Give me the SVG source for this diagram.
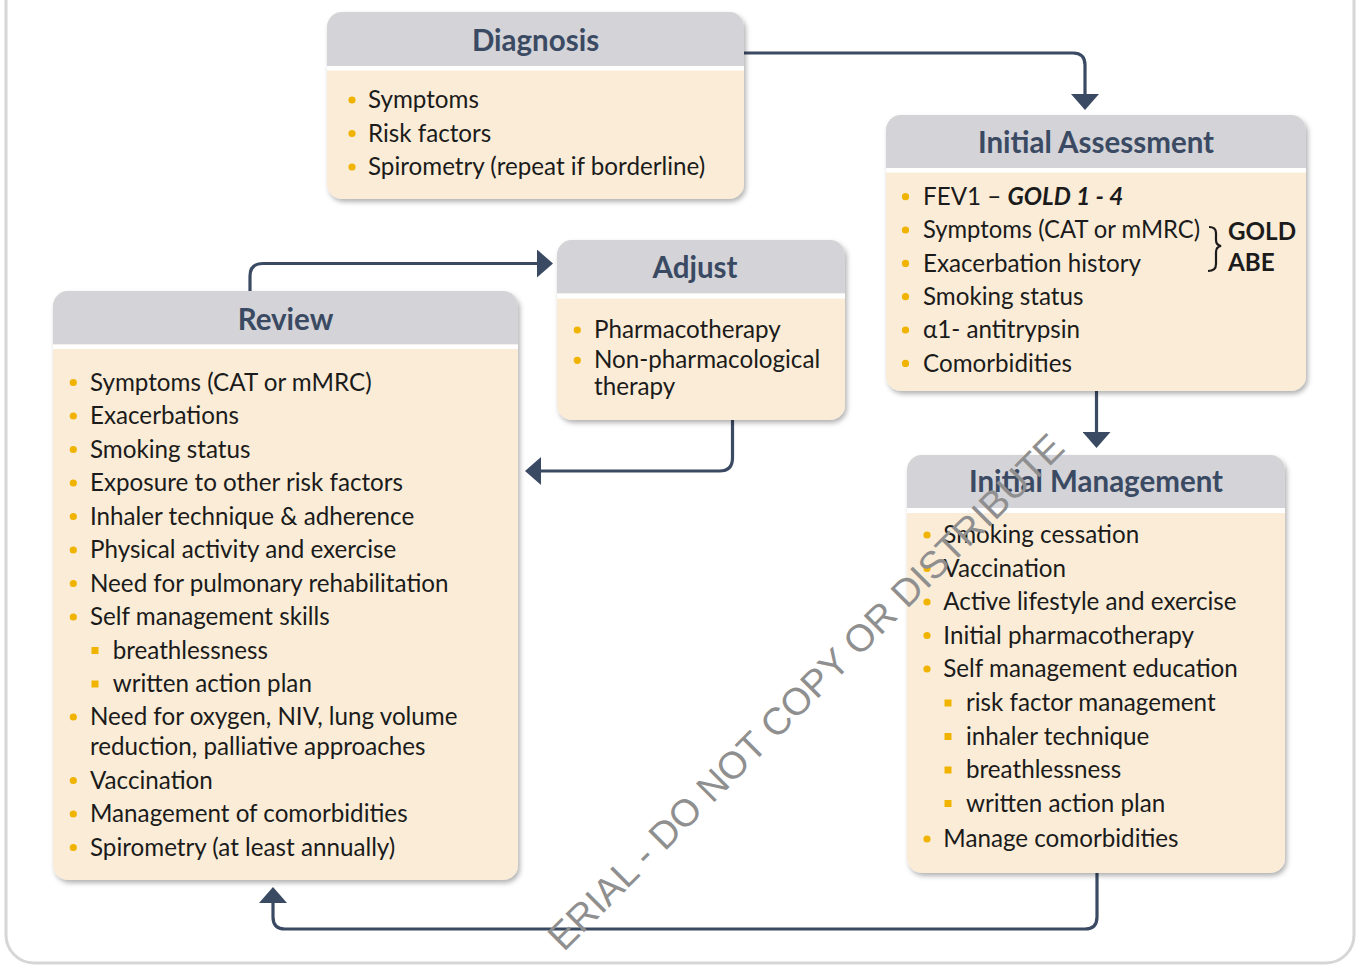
<svg xmlns="http://www.w3.org/2000/svg" width="1361" height="965" viewBox="0 0 1361 965">
<style>
.hd{fill:#d3d3d8}
.bd{fill:#faecd7}
.sep{fill:#ffffff}
.ttl{font-family:Lato,"Open Sans",sans-serif;font-weight:700;font-size:29.5px;fill:#3b4a63;text-anchor:middle}
.it{font-family:Lato,"Open Sans",sans-serif;font-size:24.2px;fill:#1b1b1b}
.bb{font-weight:700}
.dot{fill:#f0b400}
.sq{fill:#f0b400}
.cn{fill:none;stroke:#3b4a63;stroke-width:3.2;marker-end:url(#ah)}
.wm{font-family:"Liberation Sans",Arial,sans-serif;font-size:38px;fill:#8f8f8f}
</style>
<defs>
<filter id="sh" x="-10%" y="-10%" width="125%" height="125%">
<feDropShadow dx="2" dy="3" stdDeviation="2.5" flood-color="#000" flood-opacity="0.3"/>
</filter>
<marker id="ah" viewBox="0 0 16 28" markerWidth="16" markerHeight="28" refX="10" refY="14" orient="auto" markerUnits="userSpaceOnUse">
<path d="M0,0 L16,14 L0,28 Z" fill="#3b4a63"/>
</marker>
</defs>
<rect x="0" y="0" width="1361" height="965" fill="#ffffff"/>
<rect x="6" y="-40" width="1348" height="1003" rx="28" fill="#ffffff" stroke="#d6d6d6" stroke-width="3"/>

<g id="connectors">
<path class="cn" d="M744,53 H1073 Q1085,53 1085,65 V104"/>
<path class="cn" d="M1096.5,391 V442"/>
<path class="cn" d="M1097,873 V917 Q1097,929 1085,929 H285 Q273,929 273,917 V893"/>
<path class="cn" d="M250,291 V276 Q250,263.5 263,263.5 H547"/>
<path class="cn" d="M732.5,420 V458 Q732.5,471 719.5,471 H531"/>
</g>

<g id="diagnosis">
<rect x="327" y="12" width="417" height="187" rx="15" class="bd" filter="url(#sh)"/>
<path class="hd" d="M327,66 V27 A15,15 0 0 1 342,12 H729 A15,15 0 0 1 744,27 V66 Z"/>
<rect class="sep" x="327" y="66" width="417" height="4.5"/>
<text class="ttl" x="535.5" y="51">Diagnosis</text>
<circle class="dot" cx="352" cy="100" r="3.6"/>
<circle class="dot" cx="352" cy="133.5" r="3.6"/>
<circle class="dot" cx="352" cy="167" r="3.6"/>
<text class="it" x="368" y="108">Symptoms</text>
<text class="it" x="368" y="141.5">Risk factors</text>
<text class="it" x="368" y="175">Spirometry (repeat if borderline)</text>
</g>

<g id="initial-assessment">
<rect x="886" y="115" width="420" height="276" rx="15" class="bd" filter="url(#sh)"/>
<path class="hd" d="M886,168 V130 A15,15 0 0 1 901,115 H1291 A15,15 0 0 1 1306,130 V168 Z"/>
<rect class="sep" x="886" y="168" width="420" height="4.5"/>
<text class="ttl" x="1096" y="153">Initial Assessment</text>
<circle class="dot" cx="905.5" cy="196.7" r="3.6"/>
<circle class="dot" cx="905.5" cy="230" r="3.6"/>
<circle class="dot" cx="905.5" cy="263.4" r="3.6"/>
<circle class="dot" cx="905.5" cy="296.7" r="3.6"/>
<circle class="dot" cx="905.5" cy="330" r="3.6"/>
<circle class="dot" cx="905.5" cy="363.4" r="3.6"/>
<text class="it" x="923" y="205">FEV1 – <tspan font-weight="700" font-style="italic">GOLD 1 - 4</tspan></text>
<text class="it" x="923" y="238.3" textLength="277" lengthAdjust="spacingAndGlyphs">Symptoms (CAT or mMRC)</text>
<text class="it" x="923" y="271.7">Exacerbation history</text>
<text class="it" x="923" y="305">Smoking status</text>
<text class="it" x="923" y="338.3">α1- antitrypsin</text>
<text class="it" x="923" y="371.7">Comorbidities</text>
<path d="M1209,227 Q1216,227 1216,233 V240 Q1216,245 1221,246 Q1216,247 1216,252 V264 Q1216,271 1208,271" fill="none" stroke="#1b1b1b" stroke-width="2.2"/>
<text class="it bb" x="1228" y="240">GOLD</text>
<text class="it bb" x="1228" y="271">ABE</text>
</g>

<g id="adjust">
<rect x="557" y="240" width="288" height="180" rx="15" class="bd" filter="url(#sh)"/>
<path class="hd" d="M557,293.5 V255 A15,15 0 0 1 572,240 H830 A15,15 0 0 1 845,255 V293.5 Z"/>
<rect class="sep" x="557" y="293.5" width="288" height="5"/>
<text class="ttl" x="695" y="278.3">Adjust</text>
<circle class="dot" cx="577.3" cy="330" r="3.6"/>
<circle class="dot" cx="577.3" cy="360.3" r="3.6"/>
<text class="it" x="594" y="338.3">Pharmacotherapy</text>
<text class="it" x="594" y="368.3">Non-pharmacological</text>
<text class="it" x="594" y="395">therapy</text>
</g>

<g id="review">
<rect x="53" y="291" width="465" height="589" rx="15" class="bd" filter="url(#sh)"/>
<path class="hd" d="M53,344.5 V306 A15,15 0 0 1 68,291 H503 A15,15 0 0 1 518,306 V344.5 Z"/>
<rect class="sep" x="53" y="344.5" width="465" height="4.5"/>
<text class="ttl" x="285.5" y="330">Review</text>
<circle class="dot" cx="73.3" cy="382.5" r="3.6"/>
<circle class="dot" cx="73.3" cy="416" r="3.6"/>
<circle class="dot" cx="73.3" cy="449.5" r="3.6"/>
<circle class="dot" cx="73.3" cy="483" r="3.6"/>
<circle class="dot" cx="73.3" cy="516.5" r="3.6"/>
<circle class="dot" cx="73.3" cy="550" r="3.6"/>
<circle class="dot" cx="73.3" cy="583.5" r="3.6"/>
<circle class="dot" cx="73.3" cy="617" r="3.6"/>
<rect class="sq" x="91.5" y="647" width="7" height="7"/>
<rect class="sq" x="91.5" y="680.5" width="7" height="7"/>
<circle class="dot" cx="73.3" cy="717" r="3.6"/>
<circle class="dot" cx="73.3" cy="780.5" r="3.6"/>
<circle class="dot" cx="73.3" cy="814" r="3.6"/>
<circle class="dot" cx="73.3" cy="847.5" r="3.6"/>
<text class="it" x="90" y="390.5">Symptoms (CAT or mMRC)</text>
<text class="it" x="90" y="424">Exacerbations</text>
<text class="it" x="90" y="457.5">Smoking status</text>
<text class="it" x="90" y="491">Exposure to other risk factors</text>
<text class="it" x="90" y="524.5">Inhaler technique &amp; adherence</text>
<text class="it" x="90" y="558">Physical activity and exercise</text>
<text class="it" x="90" y="591.5">Need for pulmonary rehabilitation</text>
<text class="it" x="90" y="625">Self management skills</text>
<text class="it" x="112.7" y="658.5">breathlessness</text>
<text class="it" x="112.7" y="692">written action plan</text>
<text class="it" x="90" y="725">Need for oxygen, NIV, lung volume</text>
<text class="it" x="90" y="755">reduction, palliative approaches</text>
<text class="it" x="90" y="788.5">Vaccination</text>
<text class="it" x="90" y="822">Management of comorbidities</text>
<text class="it" x="90" y="855.5">Spirometry (at least annually)</text>
</g>

<g id="initial-management">
<rect x="907" y="455" width="378" height="418" rx="15" class="bd" filter="url(#sh)"/>
<path class="hd" d="M907,508 V470 A15,15 0 0 1 922,455 H1270 A15,15 0 0 1 1285,470 V508 Z"/>
<rect class="sep" x="907" y="508" width="378" height="5"/>
<text class="ttl" x="1096" y="491.7">Initial Management</text>
<circle class="dot" cx="927" cy="535" r="3.6"/>
<circle class="dot" cx="927" cy="568.5" r="3.6"/>
<circle class="dot" cx="927" cy="602" r="3.6"/>
<circle class="dot" cx="927" cy="635.5" r="3.6"/>
<circle class="dot" cx="927" cy="669" r="3.6"/>
<rect class="sq" x="944.5" y="699.5" width="7" height="7"/>
<rect class="sq" x="944.5" y="733" width="7" height="7"/>
<rect class="sq" x="944.5" y="766.5" width="7" height="7"/>
<rect class="sq" x="944.5" y="800" width="7" height="7"/>
<circle class="dot" cx="927" cy="839" r="3.6"/>
<text class="it" x="943.3" y="543">Smoking cessation</text>
<text class="it" x="943.3" y="576.5">Vaccination</text>
<text class="it" x="943.3" y="610">Active lifestyle and exercise</text>
<text class="it" x="943.3" y="643.5">Initial pharmacotherapy</text>
<text class="it" x="943.3" y="677">Self management education</text>
<text class="it" x="966" y="711">risk factor management</text>
<text class="it" x="966" y="744.5">inhaler technique</text>
<text class="it" x="966" y="778">breathlessness</text>
<text class="it" x="966" y="811.5">written action plan</text>
<text class="it" x="943.3" y="847">Manage comorbidities</text>
</g>

<text class="wm" transform="translate(806,692) rotate(-45)" text-anchor="middle" dominant-baseline="central">ERIAL - DO NOT COPY OR DISTRIBUTE</text>
</svg>
